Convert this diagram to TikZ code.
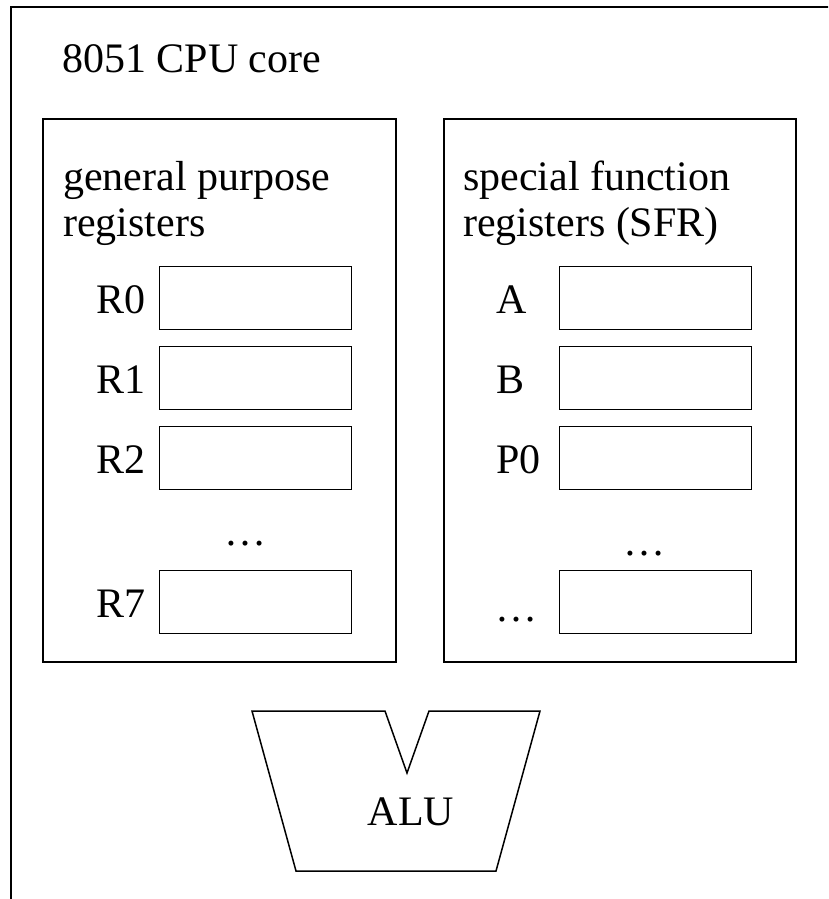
\documentclass[tikz,border=0pt]{standalone}
\usepackage{fontspec}
\setmainfont{Liberation Serif}
\begin{document}
\begin{tikzpicture}[x=1pt,y=-1pt,
  lbl/.style={font=\fontsize{42}{47}\selectfont, inner sep=0pt, anchor=base west},
  regbox/.style={draw, line width=1.3pt, minimum width=192pt, minimum height=63pt, inner sep=0pt, anchor=north west},
  group/.style={draw, line width=1.8pt},
  outer/.style={draw, line width=2.2pt}]
\useasboundingbox (0,0) rectangle (828,899);
\clip (0,0) rectangle (828,899);
\draw[outer] (11,7) rectangle (900,960);
\node[lbl] (title) at (62,72) {8051 CPU core};
% left group
\draw[group] (43,119) rectangle (396,662);
\node[lbl] (gp1) at (63,190) {general purpose};
\node[lbl] (gp2) at (63,236) {registers};
\node[regbox] (r0) at (159,266) {};
\node[regbox] (r1) at (159,346) {};
\node[regbox] (r2) at (159,426) {};
\node[regbox] (r7) at (159,570) {};
\node[lbl] (lr0) at (96,313) {R0};
\node[lbl] (lr1) at (96,393) {R1};
\node[lbl] (lr2) at (96,473) {R2};
\node[lbl] (lr7) at (96,617) {R7};
\node[lbl, anchor=base] (ld) at (245,545) {…};
% right group
\draw[group] (444,119) rectangle (796,662);
\node[lbl] (sf1) at (463,190) {special function};
\node[lbl] (sf2) at (463,236) {registers (SFR)};
\node[regbox] (a) at (559,266) {};
\node[regbox] (b) at (559,346) {};
\node[regbox] (p0) at (559,426) {};
\node[regbox] (rx) at (559,570) {};
\node[lbl] (la) at (496,313) {A};
\node[lbl] (lb) at (496,393) {B};
\node[lbl] (lp0) at (496,473) {P0};
\node[lbl, anchor=base] (rd) at (644,555) {…};
\node[lbl, anchor=base] (rd2) at (516,621) {…};
% ALU
\draw[line width=1.5pt, line join=miter] (252,711) -- (385,711) -- (407,773) -- (429,711) -- (540,711) -- (496,871) -- (296,871) -- cycle;
\node[font=\fontsize{42}{47}\selectfont, inner sep=0pt] (alu) at (411,812) {ALU};
\end{tikzpicture}
\end{document}
